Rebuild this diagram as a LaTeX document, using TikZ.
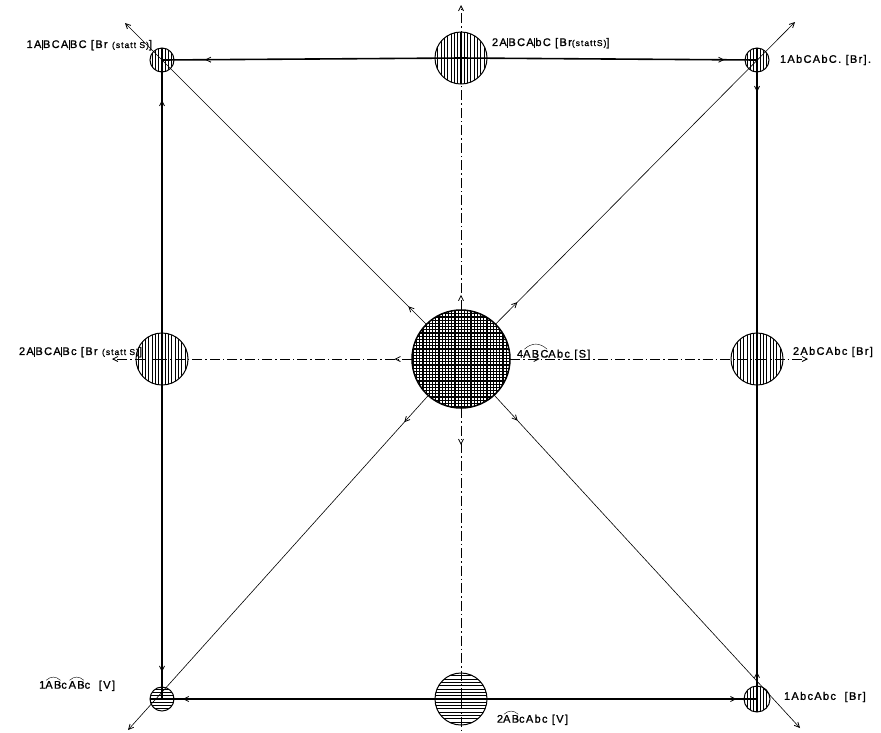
\documentclass[tikz,border=0pt]{standalone}
\usepackage{fontspec}
\setmainfont{Liberation Sans}
\newfontfamily\labf[LetterSpace=12,FakeBold=1.2]{Liberation Sans}
\usepackage{pict2e}
\usetikzlibrary{arrows.meta,decorations.markings}
\newcommand\lk{\kern0.05em\rule[-0.15em]{0.6pt}{0.9em}\kern0.05em}
\newcommand\arcov[1]{\setbox0\hbox{#1}\leavevmode\rlap{\raisebox{\dimexpr\ht0+0.8pt\relax}{\unitlength=\wd0\begin{picture}(1,0.2)\qbezier(0.05,0)(0.5,0.4)(0.95,0)\end{picture}}}\box0}
\newcommand\sm[1]{{\fontsize{8.5}{9}\selectfont #1}}
\begin{document}
\begin{tikzpicture}[x=1pt,y=-1pt,
  every node/.style={inner sep=0pt,outer sep=0pt},
  dot/.style={circle,draw,line width=1pt,minimum size=#1},
  vhatch/.style={path picture={\foreach \i in {-52.8,-49.5,...,53} \draw[line width=1.1pt] ([xshift=\i pt]path picture bounding box.north) -- ([xshift=\i pt]path picture bounding box.south);}},
  hhatch/.style={path picture={\foreach \i in {-52.8,-49.5,...,53} \draw[line width=1.1pt] ([yshift=\i pt]path picture bounding box.west) -- ([yshift=\i pt]path picture bounding box.east);}},
  xhatch/.style={path picture={\foreach \i in {-54,-50.8,...,55} {\draw[line width=1.3pt] ([xshift=\i pt]path picture bounding box.north) -- ([xshift=\i pt]path picture bounding box.south); \draw[line width=1.3pt] ([yshift=\i pt]path picture bounding box.west) -- ([yshift=\i pt]path picture bounding box.east);}}},
  lab/.style={font=\labf\fontsize{11}{12}\selectfont},
  edgeline/.style={line width=1.6pt},
  diag/.style={line width=0.6pt},
  axis/.style={line width=0.5pt,dash pattern=on 10pt off 3pt on 1.5pt off 3pt},
  am/.style={postaction={decorate,decoration={markings,mark=at position #1 with {\arrow{Straight Barb[length=5pt,width=5pt,line width=0.8pt]}}}}},
  endarr/.style={-{Straight Barb[length=5pt,width=5pt,line width=0.8pt]}}]
\useasboundingbox (0,0) rectangle (881,732);

% circles
\node[dot=98pt, xhatch, line width=1.5pt] (C) at (461,359) {};
\node[dot=52pt, vhatch] (T) at (461,58) {};
\node[dot=52pt, vhatch] (L) at (162,359) {};
\node[dot=52pt, vhatch] (R) at (757,359) {};
\node[dot=52pt, hhatch] (B) at (461,699) {};
\node[dot=24pt, vhatch] (TL) at (162,60) {};
\node[dot=24pt, vhatch] (TR) at (757,60) {};
\node[dot=24pt, hhatch] (BL) at (162,699) {};
\node[dot=26pt, vhatch] (BR) at (757,699) {};

% free ends
\coordinate (eT) at (461,5);
\coordinate (eL) at (112,359);
\coordinate (eR) at (808,359);
\coordinate (eB) at (461,732);
\coordinate (eTL) at (125,23);
\coordinate (eTR) at (795,22);
\coordinate (eBL) at (128,730);
\coordinate (eBR) at (800,728);

% square edges
\draw[edgeline, am=0.856] (T.center) -- (TL.center);
\draw[edgeline, am=0.89] (T.center) -- (TR.center);
\draw[edgeline, am=0.866] (L.center) -- (TL.center);
\draw[edgeline, am=0.92] (L.center) -- (BL.center);
\draw[edgeline, am=0.107] (TR.center) -- (R.center);
\draw[edgeline, am=0.08] (BR.center) -- (R.center);
\draw[edgeline, am=0.93] (B.center) -- (BL.center);
\draw[edgeline, am=0.93] (B.center) -- (BR.center);

% axes
\draw[axis, am=0.06] (C) -- (T.center);
\draw[axis, endarr] (T.center) -- (eT);
\draw[axis, am=0.07] (C) -- (L.center);
\draw[axis, endarr] (L.center) -- (eL);
\draw[axis, am=0.12] (C) -- (R.center);
\draw[axis, endarr] (R.center) -- (eR);
\draw[axis, am=0.127] (C) -- (B.center);
\draw[axis] (B.center) -- (eB);

% diagonals
\draw[diag, am=0.06, endarr] (C) -- (eTL);
\draw[diag, am=0.073, endarr] (C) -- (eTR);
\draw[diag, am=0.08, endarr] (C) -- (eBL);
\draw[diag, am=0.077, endarr] (C) -- (eBR);

% labels
\node[lab, anchor=east] (lTL) at (152,45) {1A\lk BCA\lk BC [Br \sm{(statt S)}]};
\node[lab, anchor=west] (lT) at (492,43) {2A\lk BCA\lk bC [Br\sm{(stattS)}]};
\node[lab, anchor=west] (lTR) at (780,60) {1AbCAbC. [Br].};
\node[lab, anchor=east] (lL) at (142,352) {2A\lk BCA\lk Bc [Br \sm{(statt S)}]};
\node[lab, anchor=west] (lC) at (517,352) {4\arcov{ABC}Abc [S]};
\node[lab, anchor=west] (lR) at (793,352) {2AbCAbc [Br]};
\node[lab, anchor=east] (lBL) at (115,684) {1\arcov{AB}c\,\arcov{AB}c \ [V]};
\node[lab, anchor=west] (lB) at (497,718) {2\arcov{AB}cAbc [V]};
\node[lab, anchor=west] (lBR) at (784,697) {1AbcAbc \ [Br]};
\end{tikzpicture}
\end{document}
